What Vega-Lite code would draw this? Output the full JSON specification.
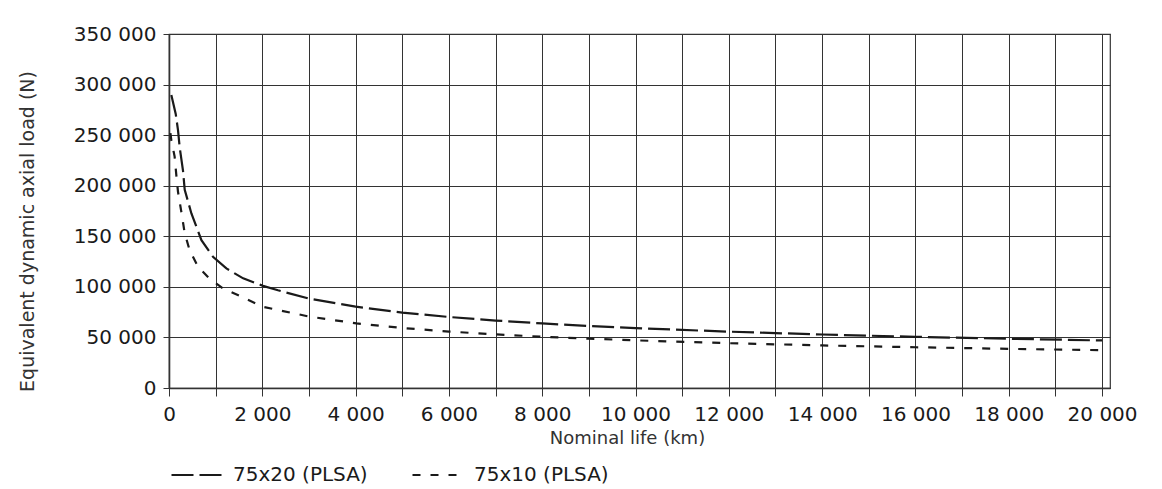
{
  "$schema": "https://vega.github.io/schema/vega-lite/v6.json",
  "width": 941,
  "height": 354,
  "autosize": {"type": "none"},
  "padding": {"left": 169, "top": 34, "right": 52, "bottom": 101},
  "background": "white",
  "config": {
    "font": "DejaVu Sans",
    "view": {"stroke": "#333", "strokeWidth": 1.2}
  },
  "data": {
    "values": [
      {"life": 50, "load": 289600, "series": "75x20 (PLSA)"},
      {"life": 144, "load": 271000, "series": "75x20 (PLSA)"},
      {"life": 193, "load": 255000, "series": "75x20 (PLSA)"},
      {"life": 229, "load": 238000, "series": "75x20 (PLSA)"},
      {"life": 300, "load": 215000, "series": "75x20 (PLSA)"},
      {"life": 337, "load": 196000, "series": "75x20 (PLSA)"},
      {"life": 480, "load": 172600, "series": "75x20 (PLSA)"},
      {"life": 695, "load": 146200, "series": "75x20 (PLSA)"},
      {"life": 943, "load": 129700, "series": "75x20 (PLSA)"},
      {"life": 1230, "load": 118200, "series": "75x20 (PLSA)"},
      {"life": 1590, "load": 108400, "series": "75x20 (PLSA)"},
      {"life": 2015, "load": 101000, "series": "75x20 (PLSA)"},
      {"life": 2336, "load": 96600, "series": "75x20 (PLSA)"},
      {"life": 3000, "load": 88400, "series": "75x20 (PLSA)"},
      {"life": 4000, "load": 80400, "series": "75x20 (PLSA)"},
      {"life": 5000, "load": 74600, "series": "75x20 (PLSA)"},
      {"life": 6000, "load": 70200, "series": "75x20 (PLSA)"},
      {"life": 7000, "load": 66700, "series": "75x20 (PLSA)"},
      {"life": 8000, "load": 63800, "series": "75x20 (PLSA)"},
      {"life": 9000, "load": 61300, "series": "75x20 (PLSA)"},
      {"life": 10000, "load": 59200, "series": "75x20 (PLSA)"},
      {"life": 12000, "load": 55700, "series": "75x20 (PLSA)"},
      {"life": 14000, "load": 52900, "series": "75x20 (PLSA)"},
      {"life": 16000, "load": 50600, "series": "75x20 (PLSA)"},
      {"life": 18000, "load": 48700, "series": "75x20 (PLSA)"},
      {"life": 20000, "load": 47000, "series": "75x20 (PLSA)"},
      {"life": 30, "load": 252000, "series": "75x10 (PLSA)"},
      {"life": 50, "load": 245000, "series": "75x10 (PLSA)"},
      {"life": 120, "load": 229000, "series": "75x10 (PLSA)"},
      {"life": 160, "load": 209000, "series": "75x10 (PLSA)"},
      {"life": 193, "load": 194000, "series": "75x10 (PLSA)"},
      {"life": 265, "load": 174000, "series": "75x10 (PLSA)"},
      {"life": 337, "load": 153000, "series": "75x10 (PLSA)"},
      {"life": 444, "load": 136000, "series": "75x10 (PLSA)"},
      {"life": 622, "load": 120000, "series": "75x10 (PLSA)"},
      {"life": 872, "load": 108000, "series": "75x10 (PLSA)"},
      {"life": 1158, "load": 98500, "series": "75x10 (PLSA)"},
      {"life": 1515, "load": 91000, "series": "75x10 (PLSA)"},
      {"life": 2015, "load": 80300, "series": "75x10 (PLSA)"},
      {"life": 3016, "load": 70500, "series": "75x10 (PLSA)"},
      {"life": 4017, "load": 63900, "series": "75x10 (PLSA)"},
      {"life": 5000, "load": 59300, "series": "75x10 (PLSA)"},
      {"life": 6000, "load": 55800, "series": "75x10 (PLSA)"},
      {"life": 7000, "load": 53000, "series": "75x10 (PLSA)"},
      {"life": 8000, "load": 50700, "series": "75x10 (PLSA)"},
      {"life": 9000, "load": 48800, "series": "75x10 (PLSA)"},
      {"life": 10000, "load": 47100, "series": "75x10 (PLSA)"},
      {"life": 12000, "load": 44300, "series": "75x10 (PLSA)"},
      {"life": 14000, "load": 42100, "series": "75x10 (PLSA)"},
      {"life": 16000, "load": 40300, "series": "75x10 (PLSA)"},
      {"life": 18000, "load": 38700, "series": "75x10 (PLSA)"},
      {"life": 20000, "load": 37400, "series": "75x10 (PLSA)"}
    ]
  },
  "mark": {"type": "line", "strokeWidth": 2.2, "color": "#1a1a1a", "clip": true},
  "encoding": {
    "x": {
      "field": "life",
      "type": "quantitative",
      "scale": {"domain": [0, 20170], "nice": false, "zero": false},
      "axis": {
        "title": "Nominal life (km)",
        "values": [0, 1000, 2000, 3000, 4000, 5000, 6000, 7000, 8000, 9000, 10000, 11000, 12000, 13000, 14000, 15000, 16000, 17000, 18000, 19000, 20000],
        "labelExpr": "datum.value % 2000 === 0 ? replace(format(datum.value, ',d'), ',', ' ') : ''",
        "grid": true,
        "gridColor": "#333",
        "gridOpacity": 1,
        "gridWidth": 1,
        "tickSize": 8,
        "tickColor": "#333",
        "domainColor": "#333",
        "domainWidth": 1.6,
        "labelFontSize": 20,
        "labelColor": "#1a1a1a",
        "labelBaseline": "alphabetic",
        "labelPadding": 24,
        "labelFlush": false,
        "labelOverlap": false,
        "titleFontSize": 18,
        "titleFontWeight": "normal",
        "titleColor": "#333",
        "titleX": 458,
        "titleY": 55,
        "titleAlign": "center",
        "titleBaseline": "alphabetic"
      }
    },
    "y": {
      "field": "load",
      "type": "quantitative",
      "scale": {"domain": [0, 350000], "nice": false},
      "axis": {
        "title": "Equivalent dynamic axial load (N)",
        "values": [0, 50000, 100000, 150000, 200000, 250000, 300000, 350000],
        "labelExpr": "replace(format(datum.value, ',d'), ',', ' ')",
        "grid": true,
        "gridColor": "#333",
        "gridOpacity": 1,
        "gridWidth": 1,
        "tickSize": 6,
        "tickColor": "#333",
        "domainColor": "#333",
        "domainWidth": 1.6,
        "labelFontSize": 20,
        "labelColor": "#1a1a1a",
        "labelPadding": 7,
        "labelOverlap": false,
        "titleFontSize": 19,
        "titleFontWeight": "normal",
        "titleColor": "#333",
        "titleAngle": -90,
        "titleX": -142,
        "titleY": 197,
        "titleAlign": "center",
        "titleBaseline": "middle"
      }
    },
    "strokeDash": {
      "field": "series",
      "type": "nominal",
      "scale": {"domain": ["75x20 (PLSA)", "75x10 (PLSA)"], "range": [[22, 6], [8, 10]]},
      "legend": {
        "orient": "none",
        "legendX": 1,
        "legendY": 413,
        "direction": "horizontal",
        "title": null,
        "padding": 0,
        "symbolType": "stroke",
        "symbolSize": 2809,
        "symbolStrokeWidth": 2.2,
        "symbolStrokeColor": "#1a1a1a",
        "labelFontSize": 20,
        "labelColor": "#1a1a1a",
        "labelOffset": 7,
        "columnPadding": 40
      }
    }
  }
}
